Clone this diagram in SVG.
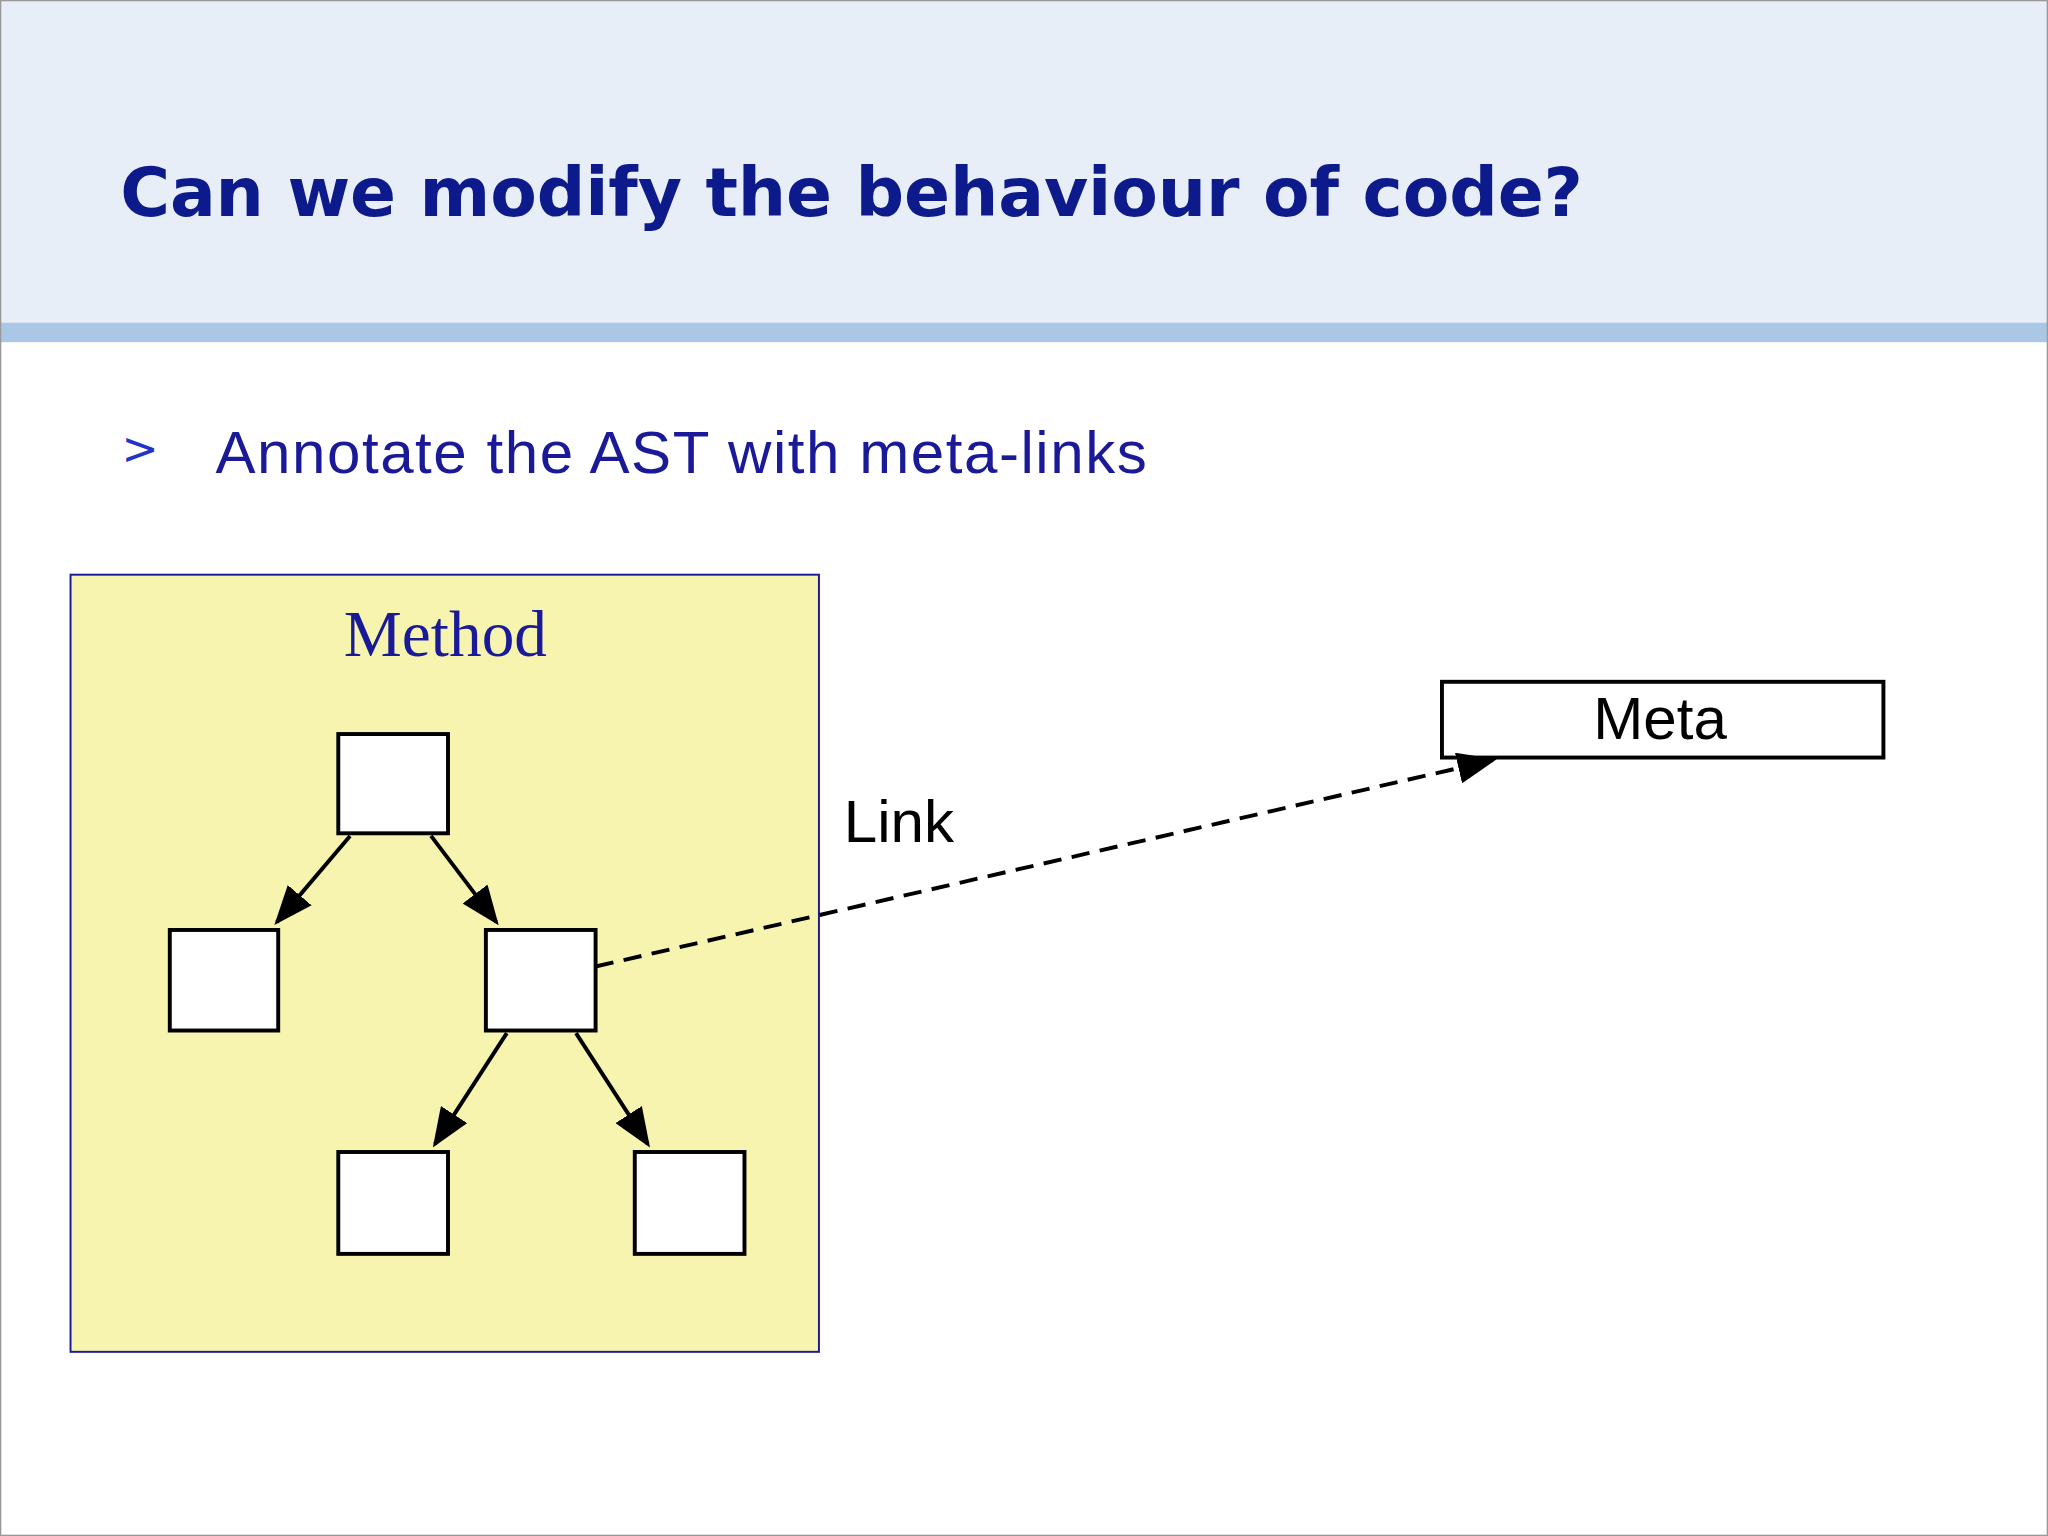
<svg xmlns="http://www.w3.org/2000/svg" width="2048" height="1536" viewBox="0 0 2048 1536">
<style>
.n{fill:#fff;stroke:#000;stroke-width:3}
.e{stroke:#000;stroke-width:3;fill:none;marker-end:url(#ah)}
</style>
<defs><marker id="ah" markerWidth="10" markerHeight="8" refX="9" refY="4" orient="auto" markerUnits="strokeWidth"><path d="M0,0 L10,4 L0,8 Z" fill="#000"/></marker></defs>
<rect width="2048" height="1536" fill="#fff"/>
<g transform="scale(1.30612)">
<rect x="0" y="0" width="1568" height="247" fill="#e8eef8"/>
<rect x="0" y="247" width="1568" height="15" fill="#aac8e6"/>
<rect x="0.5" y="0.5" width="1567" height="1175" fill="none" stroke="#999" stroke-width="1"/>
<text x="92" y="165" font-family="DejaVu Sans" font-weight="bold" font-size="52" fill="#0d1a8c" textLength="1120">Can we modify the behaviour of code?</text>
<text x="93" y="355" font-family="DejaVu Sans" font-size="34" fill="#2233cc">&gt;</text>
<text x="165" y="362" font-family="Liberation Sans" font-size="46" fill="#1a1a99" textLength="713">Annotate the AST with meta-links</text>
<g id="method"><rect x="54" y="440" width="573" height="595" fill="#f7f4b0" stroke="#1a1a99" stroke-width="1.5"/>
<text x="341" y="502" text-anchor="middle" font-family="Liberation Serif" font-size="50" fill="#1a1a99">Method</text></g>
<g id="n1"><rect class="n" x="259" y="562" width="84" height="76"/></g>
<g id="n2"><rect class="n" x="130" y="712" width="83" height="77"/></g>
<g id="n3"><rect class="n" x="372" y="712" width="84" height="77"/></g>
<g id="n4"><rect class="n" x="259" y="882" width="84" height="78"/></g>
<g id="n5"><rect class="n" x="486" y="882" width="84" height="78"/></g>
<g id="meta"><rect class="n" x="1104" y="522" width="338" height="58"/>
<text x="1271" y="566" text-anchor="middle" font-family="Liberation Sans" font-size="46">Meta</text></g>
<g id="connectors">
<line class="e" x1="268" y1="640" x2="212" y2="706"/>
<line class="e" x1="330" y1="640" x2="380" y2="706"/>
<line class="e" x1="388" y1="791" x2="333" y2="876"/>
<line class="e" x1="441" y1="791" x2="496" y2="876"/>
<line class="e" x1="456" y1="740" x2="1143" y2="582" stroke-dasharray="14,8"/>
<text x="646" y="645" font-family="Liberation Sans" font-size="46">Link</text>
</g>
</g>
</svg>
